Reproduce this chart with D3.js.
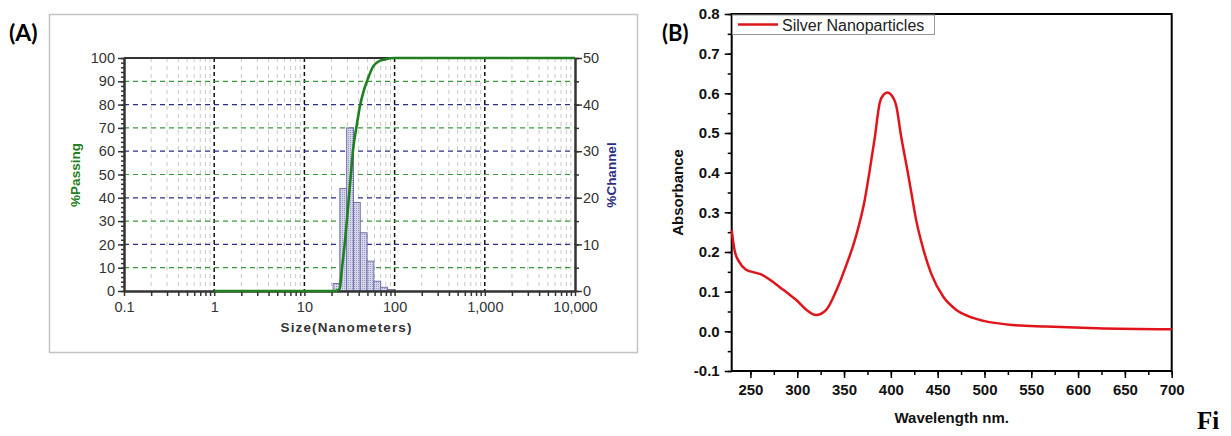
<!DOCTYPE html>
<html>
<head>
<meta charset="utf-8">
<script src="https://cdn.jsdelivr.net/npm/d3@7"></script>
<style>
  body { margin: 0; background: #fff; }
  svg { display: block; }
</style>
</head>
<body>
<div id="chart"></div>
<script>
// ---- (A) particle size distribution ----
const binEdges = [20.8, 24.7, 29.4, 35.0, 41.6, 49.5, 58.9, 70.0, 83.2, 99.0]
const channelPct = [1.6, 22, 35, 19, 12.5, 6.4, 2.1, 0.8, 0.3]
const passSize = [1, 21.7, 23.6, 24.7, 26.2, 28.5, 30.5, 32.6, 34.6, 37.8, 41.1, 45.8, 50.8, 57.7, 65.5, 77.7, 100, 10000]
const passPct = [0, 0, 0.4, 1.2, 10.4, 23.3, 36.2, 49, 60.5, 70.5, 79, 86.3, 91.3, 96.3, 98.4, 99.4, 100, 100]
const sizeTicks = [0.1, 1, 10, 100, 1000, 10000]
const passTicks = [0, 10, 20, 30, 40, 50, 60, 70, 80, 90, 100]
const channelTicks = [0, 10, 20, 30, 40, 50]

// ---- (B) UV-vis absorbance ----
const wavelength = [230, 233, 238, 245, 255, 263, 272, 281, 290, 299, 310, 320, 331, 342, 353, 360, 366, 372, 377.5, 383, 388, 392, 396.5, 400.5, 406, 411, 417, 422, 427, 434, 443, 456, 470, 484, 498, 530, 566, 620, 700]
const absorbance = [0.255, 0.205, 0.175, 0.156, 0.148, 0.142, 0.128, 0.112, 0.096, 0.079, 0.054, 0.041, 0.054, 0.104, 0.171, 0.218, 0.268, 0.330, 0.407, 0.491, 0.575, 0.596, 0.602, 0.596, 0.566, 0.491, 0.415, 0.348, 0.281, 0.213, 0.146, 0.087, 0.054, 0.037, 0.027, 0.016, 0.012, 0.0075, 0.005]
const wlTicks = [250, 300, 350, 400, 450, 500, 550, 600, 650, 700]
const absTicks = [-0.1, 0, 0.1, 0.2, 0.3, 0.4, 0.5, 0.6, 0.7, 0.8]

const svg = d3.select("#chart").append("svg").attr("width", 1231).attr("height", 436)

const pass = "#1f801f"
const navy = "#2e2e86"

// ================= panel A =================
svg.append("rect")
  .attr("x", 49.5).attr("y", 14.5).attr("width", 588).attr("height", 338)
  .attr("fill", "none").attr("stroke", "#c4c4c4").attr("stroke-width", 1.5)

svg.append("text").text("(A)")
  .attr("x", 9).attr("y", 41)
  .style("font", "bold 23px Lato, 'Open Sans', sans-serif")

const xA = d3.scaleLog().domain([0.1, 10000]).range([124, 575])
const yPass = d3.scaleLinear().domain([0, 100]).range([291, 58])
const yChan = d3.scaleLinear().domain([0, 50]).range([291, 58])

const minorSizes = []
sizeTicks.slice(0, -1).forEach(d => { for (let k = 2; k <= 9; k++) minorSizes.push(d * k) })

const gA = svg.append("g")

// vertical grid
gA.selectAll(".vminor").data(minorSizes).join("line")
  .attr("x1", d => xA(d)).attr("x2", d => xA(d))
  .attr("y1", 58).attr("y2", 291)
  .attr("stroke", "#c8c8c8").attr("stroke-width", 1).attr("stroke-dasharray", "4,4")
gA.selectAll(".vmajor").data(sizeTicks.slice(1, -1)).join("line")
  .attr("x1", d => xA(d)).attr("x2", d => xA(d))
  .attr("y1", 58).attr("y2", 291)
  .attr("stroke", "#111").attr("stroke-width", 1.5).attr("stroke-dasharray", "4,3")

// horizontal grid
gA.selectAll(".hgrid").data(passTicks.slice(1, -1)).join("line")
  .attr("x1", 124).attr("x2", 575)
  .attr("y1", d => yPass(d)).attr("y2", d => yPass(d))
  .attr("stroke", d => (d % 20 === 10 ? "#3a9a3a" : navy))
  .attr("stroke-width", 1.2).attr("stroke-dasharray", "5,4")

// histogram
const defs = svg.append("defs")
const pat = defs.append("pattern").attr("id", "dots")
  .attr("width", 2).attr("height", 2).attr("patternUnits", "userSpaceOnUse")
pat.append("rect").attr("width", 2).attr("height", 2).attr("fill", "#d6d6ea")
pat.append("rect").attr("width", 1).attr("height", 1).attr("fill", "#9a9ac6")

gA.selectAll(".bar").data(channelPct).join("rect")
  .attr("x", (d, i) => xA(binEdges[i]))
  .attr("width", (d, i) => xA(binEdges[i + 1]) - xA(binEdges[i]))
  .attr("y", d => yChan(d))
  .attr("height", d => yChan(0) - yChan(d))
  .attr("fill", "url(#dots)").attr("stroke", "#7070aa").attr("stroke-width", 1)

// axes A
const axisStyle = g => {
  g.select(".domain").attr("stroke", "#333").attr("stroke-width", 2)
  g.selectAll(".tick line").attr("stroke", "#333").attr("stroke-width", 1.5)
  g.selectAll("text").attr("fill", "#333").style("font", "14.5px 'Liberation Sans', Arial, sans-serif")
}

gA.append("g").attr("transform", "translate(0,291)")
  .call(d3.axisBottom(xA).tickValues(minorSizes).tickFormat("").tickSize(5).tickSizeOuter(0))
  .call(axisStyle)
gA.append("g").attr("transform", "translate(0,291)")
  .call(d3.axisBottom(xA).tickValues(sizeTicks).tickFormat(d3.format(",")).tickSize(5).tickPadding(6).tickSizeOuter(0))
  .call(axisStyle)

gA.append("line").attr("x1", 124).attr("x2", 575).attr("y1", 58).attr("y2", 58)
  .attr("stroke", "#333").attr("stroke-width", 2)

gA.append("g").attr("transform", "translate(124,0)")
  .call(d3.axisLeft(yPass).tickValues(d3.range(0, 101, 2)).tickFormat("").tickSize(3).tickSizeOuter(0))
  .call(axisStyle)
gA.append("g").attr("transform", "translate(124,0)")
  .call(d3.axisLeft(yPass).tickValues(passTicks).tickSize(6).tickPadding(3).tickSizeOuter(0))
  .call(axisStyle)

gA.append("g").attr("transform", "translate(575,0)")
  .call(d3.axisRight(yChan).tickValues(d3.range(0, 51, 5)).tickFormat("").tickSize(4).tickSizeOuter(0))
  .call(axisStyle)
gA.append("g").attr("transform", "translate(575,0)")
  .call(d3.axisRight(yChan).tickValues(channelTicks).tickSize(7).tickPadding(1).tickSizeOuter(0))
  .call(axisStyle)

// cumulative passing curve
gA.append("path")
  .datum(passSize.map((s, i) => [s, passPct[i]]))
  .attr("d", d3.line().x(d => xA(d[0])).y(d => yPass(d[1])).curve(d3.curveMonotoneX))
  .attr("fill", "none").attr("stroke", pass).attr("stroke-width", 2.6)

gA.append("text").text("Size(Nanometers)")
  .attr("x", 346).attr("y", 332).attr("text-anchor", "middle")
  .attr("textLength", 131).attr("fill", "#333")
  .style("font", "bold 13.5px 'Liberation Sans', Arial, sans-serif")
gA.append("text").text("%Passing")
  .attr("transform", "translate(80,175) rotate(-90)").attr("text-anchor", "middle")
  .attr("fill", pass)
  .style("font", "bold 13.5px 'Liberation Sans', Arial, sans-serif")
gA.append("text").text("%Channel")
  .attr("transform", "translate(616,175) rotate(-90)").attr("text-anchor", "middle")
  .attr("fill", navy)
  .style("font", "bold 13.5px 'Liberation Sans', Arial, sans-serif")

// ================= panel B =================
svg.append("text").text("(B)")
  .attr("x", 662).attr("y", 41)
  .style("font", "bold 22px Lato, 'Open Sans', sans-serif")

const xB = d3.scaleLinear().domain([230, 700]).range([731.7, 1171.7])
const yB = d3.scaleLinear().domain([-0.1, 0.8]).range([371, 14])
const gB = svg.append("g")

const bStyle = g => {
  g.select(".domain").remove()
  g.selectAll(".tick line").attr("stroke", "#000").attr("stroke-width", 1.5)
  g.selectAll("text").attr("fill", "#111").style("font", "bold 15px 'Liberation Sans', Arial, sans-serif")
}

gB.append("g").attr("transform", "translate(0,371)")
  .call(d3.axisBottom(xB).tickValues(d3.range(250, 701, 25)).tickFormat("").tickSize(4))
  .call(bStyle)
gB.append("g").attr("transform", "translate(0,371)")
  .call(d3.axisBottom(xB).tickValues(wlTicks).tickSize(7).tickPadding(6))
  .call(bStyle)
gB.append("g").attr("transform", "translate(731.7,0)")
  .call(d3.axisLeft(yB).tickValues(d3.range(-0.1, 0.81, 0.05)).tickFormat("").tickSize(4))
  .call(bStyle)
gB.append("g").attr("transform", "translate(731.7,0)")
  .call(d3.axisLeft(yB).tickValues(absTicks).tickSize(7).tickPadding(5)
    .tickFormat(d => d3.format(".1f")(d).replace("−", "-")))
  .call(bStyle)

gB.append("rect")
  .attr("x", xB(230)).attr("y", yB(0.8))
  .attr("width", xB(700) - xB(230)).attr("height", yB(-0.1) - yB(0.8))
  .attr("fill", "none").attr("stroke", "#000").attr("stroke-width", 2)

gB.append("path")
  .datum(wavelength.map((w, i) => [w, absorbance[i]]))
  .attr("d", d3.line().x(d => xB(d[0])).y(d => yB(d[1])).curve(d3.curveMonotoneX))
  .attr("fill", "none").attr("stroke", "#e0151b").attr("stroke-width", 2.5)

// legend
const leg = gB.append("g")
leg.append("rect").attr("x", 732.5).attr("y", 15).attr("width", 202).attr("height", 19.5)
  .attr("fill", "#fff").attr("stroke", "#999").attr("stroke-width", 1)
leg.append("line").attr("x1", 738).attr("x2", 778).attr("y1", 24.5).attr("y2", 24.5)
  .attr("stroke", "#e0151b").attr("stroke-width", 2.5)
leg.append("text").text("Silver Nanoparticles")
  .attr("x", 782).attr("y", 30.5).attr("fill", "#222")
  .style("font", "16px 'Liberation Sans', Arial, sans-serif")

gB.append("text").text("Wavelength nm.")
  .attr("x", 951.7).attr("y", 423).attr("text-anchor", "middle").attr("fill", "#111")
  .style("font", "bold 15px 'Liberation Sans', Arial, sans-serif")
gB.append("text").text("Absorbance")
  .attr("transform", "translate(683,192.5) rotate(-90)").attr("text-anchor", "middle").attr("fill", "#111")
  .style("font", "bold 15px 'Liberation Sans', Arial, sans-serif")

svg.append("text").text("Fi")
  .attr("x", 1197).attr("y", 429)
  .style("font", "bold 25px 'Liberation Serif', 'Times New Roman', serif")
</script>
</body>
</html>
